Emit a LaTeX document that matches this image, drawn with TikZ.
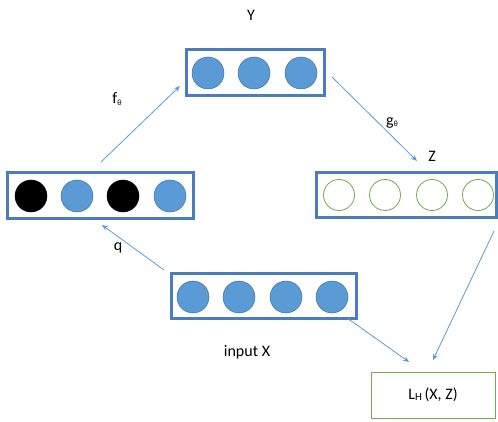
\documentclass[tikz,border=0pt]{standalone}
\usepackage{fontspec}
\setmainfont{Carlito}
\usetikzlibrary{arrows.meta}
\definecolor{boxblue}{RGB}{74,126,187}
\definecolor{fillblue}{RGB}{91,155,213}
\definecolor{edgeblue}{RGB}{65,113,156}
\definecolor{arrblue}{RGB}{91,155,213}
\definecolor{ogreen}{RGB}{112,173,71}
\tikzset{
  layerbox/.style={draw=boxblue, line width=3pt, fill=white, minimum height=45pt, inner sep=0pt},
  unit/.style={circle, fill=fillblue, draw=edgeblue, line width=0.5pt, minimum size=32pt, inner sep=0pt},
  darkunit/.style={circle, fill=black, draw=black, line width=0.5pt, minimum size=32pt, inner sep=0pt},
  openunit/.style={circle, fill=white, draw=ogreen, line width=0.8pt, minimum size=31pt, inner sep=0pt},
  lossbox/.style={draw=ogreen, line width=1pt, fill=white, minimum width=124pt, minimum height=46pt, inner sep=0pt},
  conn/.style={draw=arrblue, line width=0.8pt, -{Stealth[length=6pt,width=5pt]}},
  lbl/.style={font=\fontsize{16}{18}\selectfont, inner sep=0pt}
}
\newcommand{\sth}{{\fontsize{8}{8}\selectfont θ}}
\begin{document}
\begin{tikzpicture}[x=1pt,y=-1pt]
\useasboundingbox (0,0) rectangle (498,422);
% boxes
\node[layerbox, minimum width=138pt, minimum height=46pt] (ybox) at (255,73) {};
\node[layerbox, minimum width=186pt, minimum height=46pt] (hbox) at (100,196) {};
\node[layerbox, minimum width=185pt, minimum height=45pt] (xbox) at (263.5,295.5) {};
\node[layerbox, minimum width=180pt, minimum height=45pt] (zbox) at (406,195.5) {};
\node[lossbox] (lbox) at (433,395) {\fontsize{16}{18}\selectfont L\raisebox{-0.5pt}{\fontsize{11}{12}\selectfont H}\,(X, Z)};
% units
\node[unit] (y1) at (208,73) {};
\node[unit] (y2) at (254,73) {};
\node[unit] (y3) at (301,73) {};
\node[darkunit] (h1) at (31,196) {};
\node[unit] (h2) at (77,196) {};
\node[darkunit] (h3) at (123,196) {};
\node[unit] (h4) at (170,196) {};
\node[unit] (x1) at (193,297) {};
\node[unit] (x2) at (239,297) {};
\node[unit] (x3) at (286,297) {};
\node[unit] (x4) at (332,297) {};
\node[openunit] (z1) at (339,195) {};
\node[openunit] (z2) at (385,195) {};
\node[openunit] (z3) at (432,195) {};
\node[openunit] (z4) at (478,195) {};
% labels
\node[lbl] (ylab) at (251,15) {Y};
\node[lbl] (zlab) at (432,156) {Z};
\node[lbl] (flab) at (117,99) {f\raisebox{-2pt}{\sth}};
\node[lbl] (glab) at (392,123) {g\raisebox{-1pt}{\sth}};
\node[lbl] (qlab) at (118,248) {q};
\node[lbl] (xlab) at (247,352) {input X};
% connector endpoints
\coordinate (fs) at (101,162);
\coordinate (fe) at (180,86);
\coordinate (gs) at (332,77);
\coordinate (ge) at (417,161);
\coordinate (qs) at (164,270);
\coordinate (qe) at (102,225);
\coordinate (ls1) at (347,318);
\coordinate (le1) at (409,362);
\coordinate (ls2) at (494,231);
\coordinate (le2) at (433,360);
\draw[conn] (fs) -- (fe);
\draw[conn] (gs) -- (ge);
\draw[conn] (qs) -- (qe);
\draw[conn] (ls1) -- (le1);
\draw[conn] (ls2) -- (le2);
\end{tikzpicture}
\end{document}
